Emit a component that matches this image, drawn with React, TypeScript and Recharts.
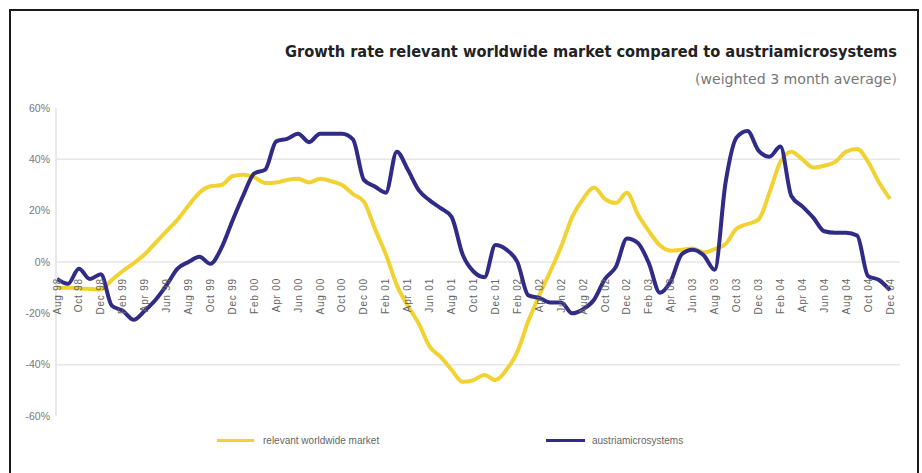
import React from 'react';
import { LineChart, Line, XAxis, YAxis, CartesianGrid, Legend } from 'recharts';

const months = [
  'Aug 98', 'Sep 98', 'Oct 98', 'Nov 98', 'Dec 98',
  'Jan 99', 'Feb 99', 'Mar 99', 'Apr 99', 'May 99', 'Jun 99', 'Jul 99', 'Aug 99', 'Sep 99', 'Oct 99', 'Nov 99', 'Dec 99',
  'Jan 00', 'Feb 00', 'Mar 00', 'Apr 00', 'May 00', 'Jun 00', 'Jul 00', 'Aug 00', 'Sep 00', 'Oct 00', 'Nov 00', 'Dec 00',
  'Jan 01', 'Feb 01', 'Mar 01', 'Apr 01', 'May 01', 'Jun 01', 'Jul 01', 'Aug 01', 'Sep 01', 'Oct 01', 'Nov 01', 'Dec 01',
  'Jan 02', 'Feb 02', 'Mar 02', 'Apr 02', 'May 02', 'Jun 02', 'Jul 02', 'Aug 02', 'Sep 02', 'Oct 02', 'Nov 02', 'Dec 02',
  'Jan 03', 'Feb 03', 'Mar 03', 'Apr 03', 'May 03', 'Jun 03', 'Jul 03', 'Aug 03', 'Sep 03', 'Oct 03', 'Nov 03', 'Dec 03',
  'Jan 04', 'Feb 04', 'Mar 04', 'Apr 04', 'May 04', 'Jun 04', 'Jul 04', 'Aug 04', 'Sep 04', 'Oct 04', 'Nov 04', 'Dec 04',
];

// growth rate in %, weighted 3 month average
const relevantMarket = [
  -10, -10, -10.3, -10.5, -10.7,
  -7, -3.5, -0.5, 3, 7.5, 12, 16.5, 22, 27, 29.5, 30, 33.4,
  34, 33, 30.8, 31, 32, 32.4, 31, 32.4, 31.5, 30, 26.5, 23.5,
  13, 3, -9, -17, -24, -33, -37, -42, -46.7, -46, -44, -46,
  -42, -35, -23, -13, -3.7, 6, 17.5, 24.6, 29, 24.5, 23, 27,
  18.5, 12, 6.5, 4.4, 4.8, 5.3, 3.7, 5, 7, 13, 14.8, 16.5,
  27, 39, 43, 40, 36.8, 37.5, 39, 43, 44, 39, 31, 24.6,
];

const austriamicrosystems = [
  -6.6, -8.5, -2.6, -6.6, -4.8,
  -17, -19, -22.5, -19, -14.7, -9, -2.6, 0, 2, -0.7, 5.5, 16,
  26, 34.5, 36, 47, 48, 50, 46.7, 50, 50, 50, 47.8, 32,
  29.4, 27, 43, 36, 28, 24, 21, 17.6, 3, -3.7, -5.9, 6.6,
  4.8, 0, -13, -14, -15.8, -15.8, -20, -18.4, -14.7, -6.6, -1.8, 9.2,
  7.4, -0.5, -12, -7.4, 3, 4.8, 2.6, -3, 31, 48.5, 51, 43.4,
  41, 45, 25.7, 21.7, 17.3, 12, 11.4, 11.4, 10.3, -5.5, -7, -11,
];

const yTicks = [-60, -40, -20, 0, 20, 40, 60];
const gridValues = [40, 0, -40];
const seriesOrder = ['market', 'ams'];

const data = months.map((month, i) => ({
  month,
  market: relevantMarket[i],
  ams: austriamicrosystems[i],
}));

const W = 922;
const H = 473;
const margin = { top: 108, right: 22, bottom: 40, left: 0 };
const zeroY = margin.top + (H - margin.top - margin.bottom - 1) / 2;

const YELLOW = '#f2d232';
const BLUE = '#2f2b86';
const FONT = "'Liberation Sans', Arial, sans-serif";
const NARROW = "'Liberation Sans Narrow', 'DejaVu Sans Condensed', 'Liberation Sans', sans-serif";

const MonthTick = ({ x, payload }: any) => (
  <text
    x={x}
    y={zeroY + 8}
    dy="0.35em"
    transform={`rotate(-90, ${x}, ${zeroY + 8})`}
    textAnchor="end"
    fontSize={10}
    letterSpacing={0.8}
    fontFamily={FONT}
    fill="#666"
  >
    {payload.value}
  </text>
);

const legendLeft = [217, 546];

const LegendContent = ({ payload }: any) => {
  const items = seriesOrder
    .map((key) => (payload || []).find((p: any) => p.dataKey === key))
    .filter(Boolean);
  return (
    <div style={{ position: 'relative', height: 16, fontFamily: FONT, fontSize: 10, color: '#666' }}>
      {items.map((item: any, i: number) => (
        <div
          key={item.value}
          style={{ position: 'absolute', left: legendLeft[i], top: 0, display: 'flex', alignItems: 'center', whiteSpace: 'nowrap' }}
        >
          <span style={{ display: 'inline-block', width: i === 0 ? 37 : 39, height: 3, background: item.color, marginRight: i === 0 ? 9 : 7 }} />
          <span>{item.value}</span>
        </div>
      ))}
    </div>
  );
};

export default function App() {
  return (
    <div style={{ position: 'absolute', left: 0, top: 0, width: W, height: H, overflow: 'hidden', background: '#fff' }}>
      <div
        style={{
          position: 'absolute', left: 9, top: 9, width: 910, height: 480,
          border: '2px solid #1a1a1a', boxSizing: 'border-box',
        }}
      />
      <svg width={W} height={100} style={{ position: 'absolute', left: 0, top: 0 }}>
        <text
          x={897}
          y={57}
          textAnchor="end"
          fontSize={16}
          fontWeight="bold"
          fontFamily={NARROW}
          fill="#222"
          textLength={612}
          lengthAdjust="spacingAndGlyphs"
        >
          Growth rate relevant worldwide market compared to austriamicrosystems
        </text>
        <text
          x={897}
          y={84}
          textAnchor="end"
          fontSize={14}
          fontFamily={NARROW}
          fill="#777"
          textLength={202}
          lengthAdjust="spacingAndGlyphs"
        >
          (weighted 3 month average)
        </text>
      </svg>
      <div style={{ position: 'absolute', left: 0, top: 0 }}>
        <LineChart width={W} height={H} data={data} margin={margin}>
          <CartesianGrid vertical={false} horizontalValues={gridValues} stroke="#e6e6e6" strokeWidth={1.5} />
          <XAxis
            dataKey="month"
            height={1}
            interval={1}
            axisLine={false}
            tickLine={false}
            tick={<MonthTick />}
            padding={{ left: 1, right: 10 }}
          />
          <YAxis
            domain={[-60, 60]}
            ticks={yTicks}
            interval={0}
            width={56}
            tickFormatter={(v: number) => `${v}%`}
            axisLine={{ stroke: '#e8e8e8', strokeWidth: 2 }}
            tickLine={false}
            tickSize={6}
            tickMargin={0}
            tick={{ fontSize: 10.5, fill: '#777', fontFamily: FONT }}
          />
          <Line
            type="monotone"
            dataKey="market"
            name="relevant worldwide market"
            stroke={YELLOW}
            strokeWidth={4}
            dot={false}
            isAnimationActive={false}
          />
          <Line
            type="monotone"
            dataKey="ams"
            name="austriamicrosystems"
            stroke={BLUE}
            strokeWidth={4}
            dot={false}
            isAnimationActive={false}
          />
          <Legend
            content={<LegendContent />}
            wrapperStyle={{ left: 0, top: 435, width: W }}
          />
        </LineChart>
      </div>
    </div>
  );
}
